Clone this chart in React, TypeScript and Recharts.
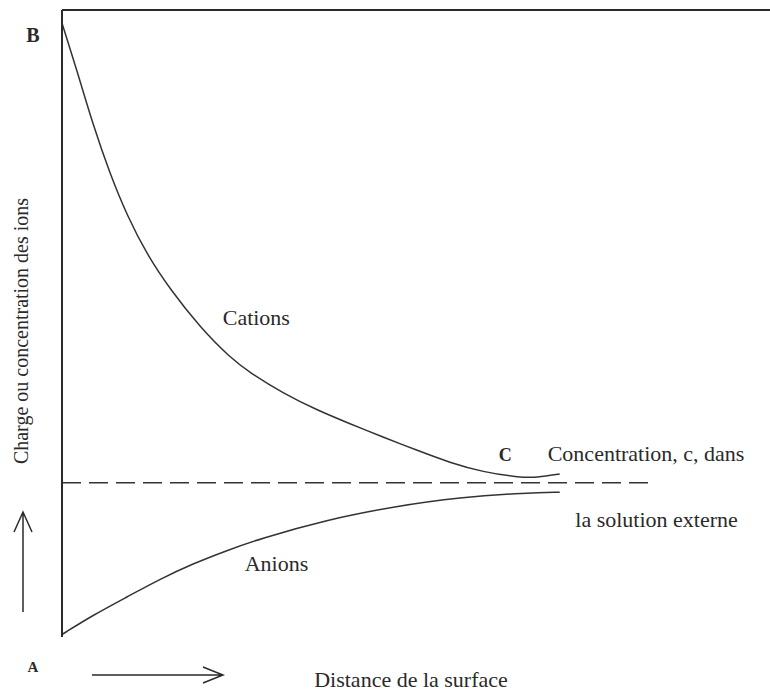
import React from 'react';
import { LineChart, Line, XAxis, YAxis, ReferenceLine, ReferenceDot } from 'recharts';

// distance from the surface (0 = surface, 100 = right edge of the frame)
const cationX = [0, 2.1, 4.4, 6.8, 9.2, 12.0, 15.3, 19.5, 23.7, 26.6, 31.2, 36.0, 40.7, 45.3, 50.1, 54.8, 59.5, 64.3, 67.1, 70.3];
const cationY = [97.9, 90.4, 81.6, 73.8, 67.2, 61.0, 55.4, 49.4, 44.6, 42.1, 38.9, 36.2, 34.0, 31.9, 29.8, 27.8, 26.3, 25.5, 25.4, 26.0];

const anionX = [0, 4.4, 9.2, 13.8, 18.5, 23.3, 28.0, 37.4, 46.8, 56.2, 65.7, 70.3];
const anionY = [0.4, 3.5, 6.4, 9.2, 11.7, 13.8, 15.7, 18.7, 20.8, 22.3, 23.0, 23.1];

// concentration c in the external solution
const bulkLevel = 24.6;
const bulkEnd = 82.8;

const notes = [
  { x: 22.7, y: 50.9, text: 'Cations', bold: false, size: 22 },
  { x: 25.8, y: 11.8, text: 'Anions', bold: false, size: 22 },
  { x: 61.7, y: 29.0, text: 'C', bold: true, size: 18 },
  { x: 68.6, y: 29.3, text: 'Concentration, c, dans', bold: false, size: 22 },
  { x: 72.5, y: 18.7, text: 'la solution externe', bold: false, size: 22 },
];

const cationData = cationX.map((x, i) => ({ x, y: cationY[i] }));
const anionData = anionX.map((x, i) => ({ x, y: anionY[i] }));
const bulkData = [{ x: 0, y: bulkLevel }, { x: bulkEnd, y: bulkLevel }];

const serif = '"Liberation Serif", "Times New Roman", serif';
const ink = '#2a2a2a';

const App: React.FC = () => {
  return (
    <div style={{ position: 'absolute', left: 0, top: 0, width: 770, height: 693, background: '#fff' }}>
      <LineChart width={770} height={693} margin={{ top: 10, right: 0, bottom: 56, left: 0 }}>
        <XAxis
          type="number"
          dataKey="x"
          domain={[0, 100]}
          allowDataOverflow
          tick={false}
          tickLine={false}
          height={0}
          axisLine={{ stroke: ink, strokeWidth: 2 }}
        />
        <YAxis
          type="number"
          dataKey="y"
          domain={[0, 100]}
          allowDataOverflow
          tick={false}
          tickLine={false}
          width={62}
          axisLine={{ stroke: ink, strokeWidth: 2 }}
        />
        <ReferenceLine y={100} stroke={ink} strokeWidth={2} />
        <Line
          data={cationData}
          dataKey="y"
          type="basis"
          stroke="#333"
          strokeWidth={1.5}
          dot={false}
          isAnimationActive={false}
        />
        <Line
          data={anionData}
          dataKey="y"
          type="basis"
          stroke="#333"
          strokeWidth={1.5}
          dot={false}
          isAnimationActive={false}
        />
        <Line
          data={bulkData}
          dataKey="y"
          type="linear"
          stroke="#333"
          strokeWidth={1.5}
          strokeDasharray="19 8"
          dot={false}
          isAnimationActive={false}
        />
        {notes.map((n) => (
          <ReferenceDot
            key={n.text}
            x={n.x}
            y={n.y}
            r={0}
            shape={(p: any) => (
              <text
                x={p.cx}
                y={p.cy}
                dominantBaseline="central"
                fontFamily={serif}
                fontSize={n.size}
                fontWeight={n.bold ? 'bold' : 'normal'}
                fill={ink}
              >
                {n.text}
              </text>
            )}
          />
        ))}
      </LineChart>
      <svg width={770} height={693} style={{ position: 'absolute', left: 0, top: 0, pointerEvents: 'none' }}>
        <g fontFamily={serif} fill={ink}>
          <text x={33} y={35} fontSize={20} fontWeight="bold" textAnchor="middle" dominantBaseline="central">B</text>
          <text x={33} y={667} fontSize={15} fontWeight="bold" textAnchor="middle" dominantBaseline="central">A</text>
          <text x={411} y={687} fontSize={22} textAnchor="middle">Distance de la surface</text>
          <text
            x={0}
            y={0}
            fontSize={20}
            textAnchor="middle"
            transform="translate(28 331) rotate(-90)"
          >
            Charge ou concentration des ions
          </text>
        </g>
        <g stroke={ink} strokeWidth={1.5} fill="none">
          <path d="M92 675 L223 675 M203 667 L223 675 L203 683" />
          <path d="M23 612 L23 512 M14 532 L23 512 L32 532" />
        </g>
      </svg>
    </div>
  );
};

export default App;
